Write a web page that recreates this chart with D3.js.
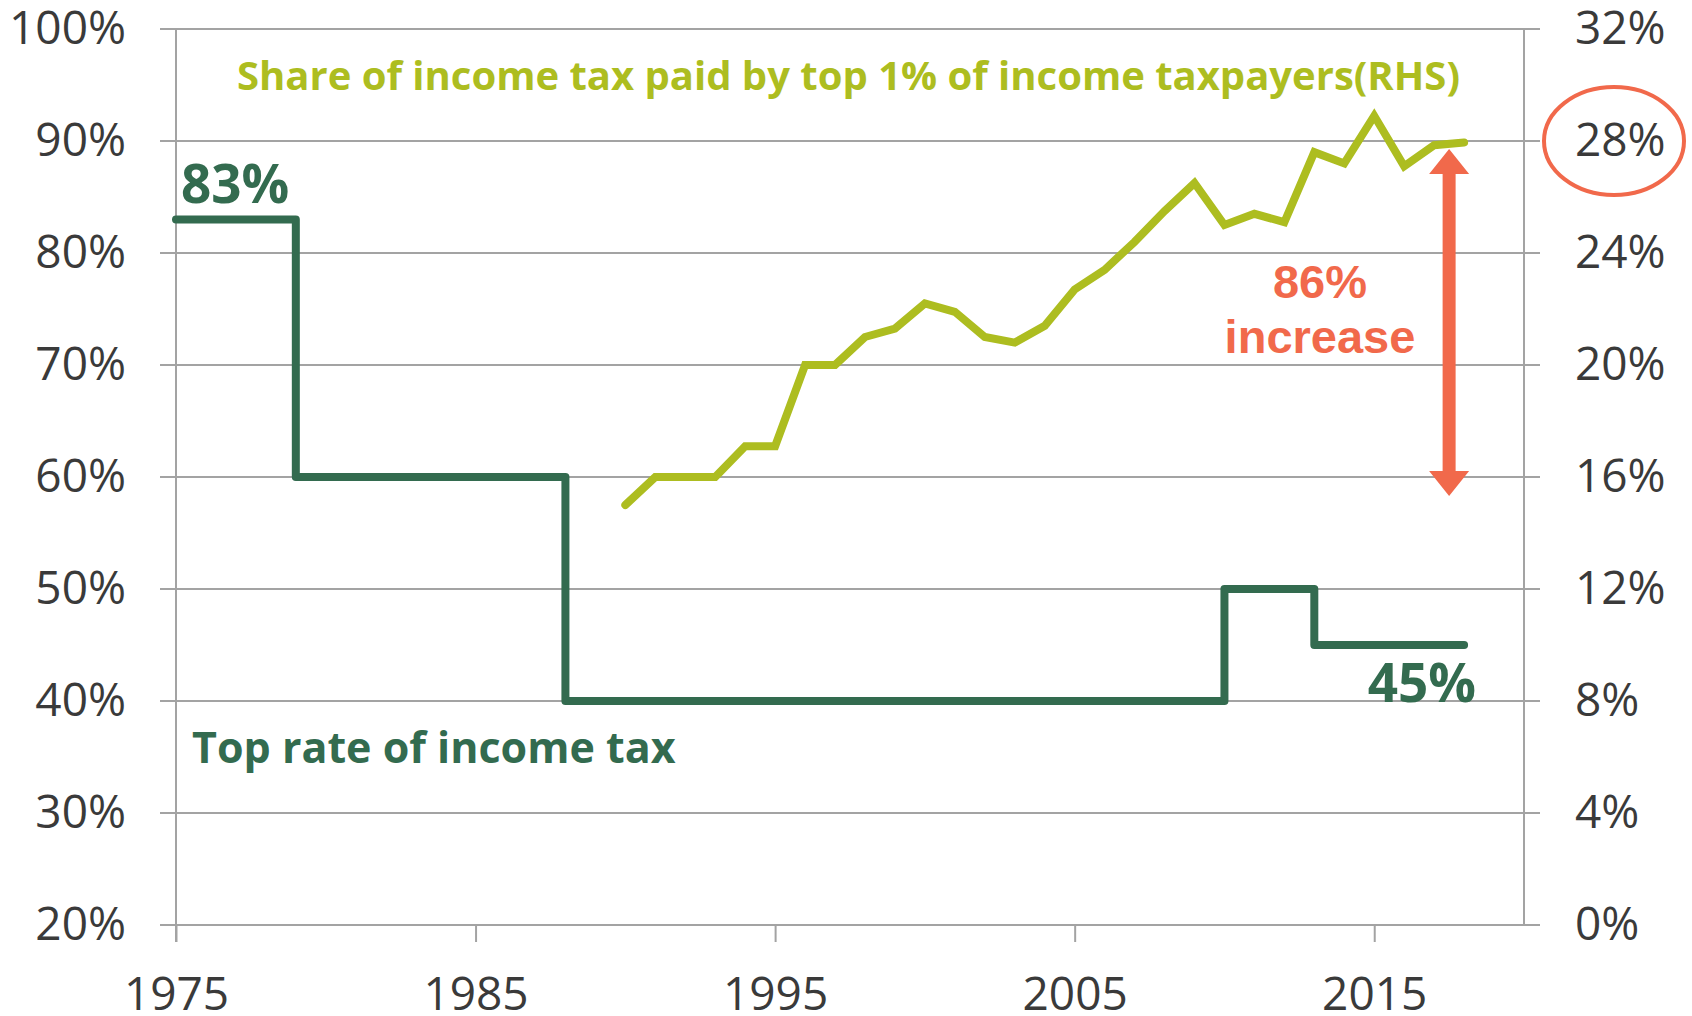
<!DOCTYPE html>
<html>
<head>
<meta charset="utf-8">
<script src="https://cdn.jsdelivr.net/npm/d3@7"></script>
<style>
  body { margin: 0; background: #fff; }
  svg { display: block; }
</style>
</head>
<body>
<svg width="1692" height="1016"></svg>
<script>
// share of income tax paid by the top 1% (right hand scale, %)
var shareYears = [1990, 1991, 1992, 1993, 1994, 1995, 1996, 1997, 1998, 1999,
                  2000, 2001, 2002, 2003, 2004, 2005, 2006, 2007, 2008, 2009,
                  2010, 2011, 2012, 2013, 2014, 2015, 2016, 2017, 2018];
var shareValues = [15.0, 16.0, 16.0, 16.0, 17.1, 17.1, 20.0, 20.0, 21.0, 21.3,
                   22.2, 21.9, 21.0, 20.8, 21.4, 22.7, 23.4, 24.4, 25.5, 26.5,
                   25.0, 25.4, 25.1, 27.6, 27.2, 28.9, 27.1, 27.85, 27.95];

// top rate of income tax (left hand scale, %), steps start in these years
var rateYears = [1975, 1979, 1988, 2010, 2013, 2018];
var rateValues = [83, 60, 40, 50, 45, 45];

var leftTicks = [20, 30, 40, 50, 60, 70, 80, 90, 100];
var rightTicks = [0, 4, 8, 12, 16, 20, 24, 28, 32];
var yearTicks = [1975, 1985, 1995, 2005, 2015];

var darkGreen = '#336b4f';
var lightGreen = '#adbd20';
var orange = '#f1694b';
var gridGrey = '#a3a3a3';
var labelGrey = '#3a3a3a';

var svg = d3.select('svg');

var x = d3.scaleLinear().domain([1975, 2020]).range([176, 1524]);
var yL = d3.scaleLinear().domain([20, 100]).range([925, 29]);
var yR = d3.scaleLinear().domain([0, 32]).range([925, 29]);

// gridlines stick out 16px on both sides of the plot
svg.append('g').selectAll('line')
    .data(leftTicks)
    .enter()
    .append('line')
    .attr('x1', x.range()[0] - 16)
    .attr('x2', x.range()[1] + 16)
    .attr('y1', function(d){ return yL(d); })
    .attr('y2', function(d){ return yL(d); })
    .attr('stroke', gridGrey)
    .attr('stroke-width', 2);

// vertical axis lines
svg.append('line')
    .attr('x1', x(1975)).attr('x2', x(1975))
    .attr('y1', yL(100)).attr('y2', yL(20) + 17)
    .attr('stroke', gridGrey).attr('stroke-width', 2);
svg.append('line')
    .attr('x1', x(2020)).attr('x2', x(2020))
    .attr('y1', yL(100)).attr('y2', yL(20))
    .attr('stroke', gridGrey).attr('stroke-width', 2);

var leftAxis = svg.append('g')
    .attr('transform', 'translate(' + x(1975) + ',0)')
    .call(d3.axisLeft(yL).tickValues(leftTicks).tickSize(0).tickPadding(50)
        .tickFormat(function(d){ return d + '%'; }));

var rightAxis = svg.append('g')
    .attr('transform', 'translate(' + x(2020) + ',0)')
    .call(d3.axisRight(yR).tickValues(rightTicks).tickSize(0).tickPadding(51)
        .tickFormat(function(d){ return d + '%'; }));

var bottomAxis = svg.append('g')
    .attr('transform', 'translate(0,' + yL(20) + ')')
    .call(d3.axisBottom(x).tickValues(yearTicks).tickSize(17).tickPadding(35)
        .tickFormat(d3.format('d')));

[leftAxis, rightAxis, bottomAxis].forEach(function(a){
    a.select('.domain').remove();
    a.selectAll('line').attr('stroke', gridGrey).attr('stroke-width', 2);
    a.selectAll('text')
        .attr('fill', labelGrey)
        .style('font-family', '"Open Sans", sans-serif')
        .style('font-size', '46px');
});

// top rate step line
var stepLine = d3.line()
    .x(function(d){ return x(d[0]); })
    .y(function(d){ return yL(d[1]); })
    .curve(d3.curveStepAfter);

svg.append('path')
    .datum(d3.zip(rateYears, rateValues))
    .attr('d', stepLine)
    .attr('fill', 'none')
    .attr('stroke', darkGreen)
    .attr('stroke-width', 8)
    .attr('stroke-linejoin', 'round')
    .attr('stroke-linecap', 'round');

// share line
var shareLine = d3.line()
    .x(function(d){ return x(d[0]); })
    .y(function(d){ return yR(d[1]); });

svg.append('path')
    .datum(d3.zip(shareYears, shareValues))
    .attr('d', shareLine)
    .attr('fill', 'none')
    .attr('stroke', lightGreen)
    .attr('stroke-width', 8)
    .attr('stroke-linejoin', 'miter')
    .attr('stroke-linecap', 'round');

// double headed arrow from 15% to 28%
var ax = x(2017.5);
var aTop = yR(28) + 8;
var aBot = yR(15) - 9;
var headL = 25, headW = 20, shaftW = 6.5;
var arrowPts = [
    [ax, aTop], [ax + headW, aTop + headL], [ax + shaftW, aTop + headL],
    [ax + shaftW, aBot - headL], [ax + headW, aBot - headL], [ax, aBot],
    [ax - headW, aBot - headL], [ax - shaftW, aBot - headL],
    [ax - shaftW, aTop + headL], [ax - headW, aTop + headL]
];
svg.append('path')
    .attr('d', d3.line()(arrowPts) + 'Z')
    .attr('fill', orange);

// ellipse round the 28% label
svg.append('ellipse')
    .attr('cx', x(2020) + 90)
    .attr('cy', yR(28))
    .attr('rx', 70)
    .attr('ry', 54)
    .attr('fill', 'none')
    .attr('stroke', orange)
    .attr('stroke-width', 4);

// annotations
svg.append('text')
    .text('Share of income tax paid by top 1% of income taxpayers(RHS)')
    .attr('x', 237).attr('y', 90)
    .attr('fill', lightGreen)
    .style('font-family', '"Open Sans", sans-serif')
    .style('font-weight', 700)
    .style('font-size', '40px');

svg.append('text')
    .text('83%')
    .attr('x', 181).attr('y', 203)
    .attr('fill', darkGreen)
    .style('font-family', '"Open Sans", sans-serif')
    .style('font-weight', 700)
    .style('font-size', '53px');

svg.append('text')
    .text('45%')
    .attr('x', 1476).attr('y', 702)
    .attr('text-anchor', 'end')
    .attr('fill', darkGreen)
    .style('font-family', '"Open Sans", sans-serif')
    .style('font-weight', 700)
    .style('font-size', '53px');

svg.append('text')
    .text('Top rate of income tax')
    .attr('x', 192).attr('y', 763)
    .attr('fill', darkGreen)
    .style('font-family', '"Open Sans", sans-serif')
    .style('font-weight', 700)
    .style('font-size', '43px');

svg.append('text')
    .text('86%')
    .attr('x', 1320).attr('y', 298)
    .attr('text-anchor', 'middle')
    .attr('fill', orange)
    .style('font-family', '"Liberation Sans", Arial, sans-serif')
    .style('font-weight', 700)
    .style('font-size', '47px');

svg.append('text')
    .text('increase')
    .attr('x', 1320).attr('y', 353)
    .attr('text-anchor', 'middle')
    .attr('fill', orange)
    .style('font-family', '"Liberation Sans", Arial, sans-serif')
    .style('font-weight', 700)
    .style('font-size', '47px');
</script>
</body>
</html>
